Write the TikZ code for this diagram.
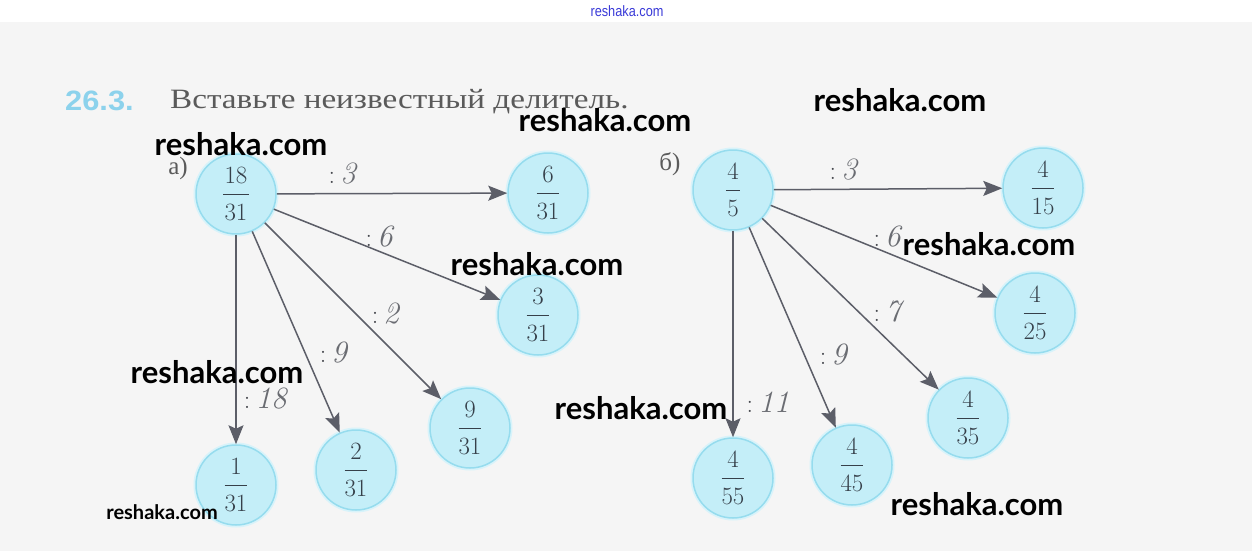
\documentclass[tikz,border=0pt]{standalone}
\usepackage{fontspec}
\usetikzlibrary{arrows.meta}
\newfontfamily\lato{Lato}
\newfontfamily\rserif{Liberation Serif}
\newfontfamily\rsans{Liberation Sans}
\definecolor{bg}{HTML}{F5F5F5}
\definecolor{cfill}{HTML}{C4EEF8}
\definecolor{cedge}{HTML}{96DCEE}
\definecolor{cglow}{HTML}{D8F3FA}
\definecolor{numc}{HTML}{36404A}
\definecolor{arrc}{HTML}{5C5E68}
\definecolor{labc}{HTML}{6A6C72}
\definecolor{colc}{HTML}{45474D}
\definecolor{titc}{HTML}{8CD2EC}
\definecolor{txtc}{HTML}{5A5A5A}
\definecolor{wmblue}{HTML}{3A3AD8}
\newcommand\fr[2]{$\displaystyle\frac{\kern1.5pt#1\kern1.5pt}{\raisebox{-3pt}{$#2$}}$}
\newcommand\dv[1]{{\color{colc}\fontsize{26}{26}\selectfont :}\,\textit{#1}}
\begin{document}
\begin{tikzpicture}[x=1pt,y=-1pt,
  fracnode/.style={circle, minimum size=80pt, inner sep=0pt, fill=cfill,
    draw=cedge, line width=1.5pt, preaction={draw=cglow, line width=5pt},
    font=\fontsize{26}{26}\selectfont, text=numc},
  arr/.style={draw=arrc, line width=1.5pt, -{Stealth[length=19pt,width=15pt,inset=3.5pt]}},
  lab/.style={font=\fontsize{31}{31}\selectfont, text=labc, inner sep=0pt},
  wm/.style={font=\lato\bfseries\fontsize{31}{31}\selectfont, anchor=base, text=black, inner sep=0pt},
  part/.style={font=\rserif\fontsize{25}{25}\selectfont, text=txtc, anchor=base, inner sep=0pt}]
\useasboundingbox (0,0) rectangle (1252,551);
\fill[white] (0,0) rectangle (1252,551);
\fill[bg] (0,22) rectangle (1252,551);

% header watermark
\node[font=\rsans\fontsize{15}{15}\selectfont, text=wmblue, anchor=base, inner sep=0pt] (wtop) at (627,17) {\scalebox{0.85}[1]{reshaka.com}};

% title
\node[font=\rsans\bfseries\fontsize{28}{28}\selectfont, text=titc, anchor=base west, inner sep=0pt] (num) at (65,110) {\scalebox{1.1}[1]{26.3.}};
\node[font=\rserif\fontsize{28}{28}\selectfont, text=txtc, anchor=base west, inner sep=0pt] (title) at (170,108) {\scalebox{1.185}[1]{Вставьте неизвестный делитель.}};

\node[part] (pa) at (178,174) {а)};
\node[part] (pb) at (670,170) {б)};

% part a
\node[fracnode] (a0) at (236,194) {\fr{18}{31}};
\node[fracnode] (a1) at (548,193) {\fr{6}{31}};
\node[fracnode] (a2) at (538,315) {\fr{3}{31}};
\node[fracnode] (a3) at (470,428) {\fr{9}{31}};
\node[fracnode] (a4) at (356,470) {\fr{2}{31}};
\node[fracnode] (a5) at (236,485) {\fr{1}{31}};
\draw[arr] (a0) -- (a1);
\draw[arr] (a0) -- (a2);
\draw[arr] (a0) -- (a3);
\draw[arr] (a0) -- (a4);
\draw[arr] (a0) -- (a5);
\node[lab] (la1) at (343,174) {\dv{3}};
\node[lab] (la2) at (380,237) {\dv{6}};
\node[lab] (la3) at (386,314) {\dv{2}};
\node[lab] (la4) at (334,353) {\dv{9}};
\node[lab] (la5) at (266,399) {\dv{18}};

% part b
\node[fracnode] (b0) at (733,190) {\fr{4}{5}};
\node[fracnode] (b1) at (1043,188) {\fr{4}{15}};
\node[fracnode] (b2) at (1035,313) {\fr{4}{25}};
\node[fracnode] (b3) at (968,418) {\fr{4}{35}};
\node[fracnode] (b4) at (852,465) {\fr{4}{45}};
\node[fracnode] (b5) at (733,478) {\fr{4}{55}};
\draw[arr] (b0) -- (b1);
\draw[arr] (b0) -- (b2);
\draw[arr] (b0) -- (b3);
\draw[arr] (b0) -- (b4);
\draw[arr] (b0) -- (b5);
\node[lab] (lb1) at (844,170) {\dv{3}};
\node[lab] (lb2) at (888,237) {\dv{6}};
\node[lab] (lb3) at (889,312) {\dv{7}};
\node[lab] (lb4) at (834,355) {\dv{9}};
\node[lab] (lb5) at (768,402) {\dv{11}};

% watermarks
\node[wm] (w1) at (900,111) {reshaka.com};
\node[wm] (w2) at (605,131) {reshaka.com};
\node[wm] (w3) at (241,155) {reshaka.com};
\node[wm] (w4) at (537,275) {reshaka.com};
\node[wm] (w5) at (989,255) {reshaka.com};
\node[wm] (w6) at (217,383) {reshaka.com};
\node[wm] (w7) at (641,419) {reshaka.com};
\node[wm] (w8) at (977,515) {reshaka.com};
\node[wm, font=\lato\bfseries\fontsize{20}{20}\selectfont] (w9) at (162,519) {reshaka.com};
\end{tikzpicture}
\end{document}
